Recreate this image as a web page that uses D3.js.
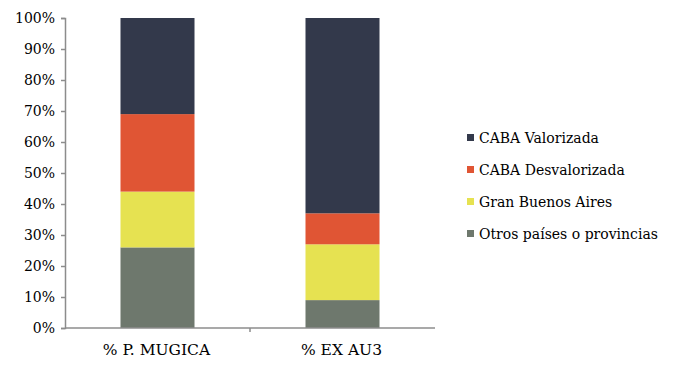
<!DOCTYPE html>
<html>
<head>
<meta charset="utf-8">
<script src="https://cdn.jsdelivr.net/npm/d3@7"></script>
<style>
  body { margin: 0; background: #fff; }
</style>
</head>
<body>
<div id="canvas"></div>
<script>
const categories = ['% P. MUGICA', '% EX AU3'];
const seriesNames = ['Otros países o provincias', 'Gran Buenos Aires', 'CABA Desvalorizada', 'CABA Valorizada'];
const otros = [26, 9];
const gba = [18, 18];
const cabaDesv = [25, 10];
const cabaVal = [31, 63];
const yTicks = [0, 10, 20, 30, 40, 50, 60, 70, 80, 90, 100];
const colors = ['#6e786d', '#e6e251', '#e05534', '#33394b'];

const fontStack = '"DejaVu Serif", serif';

const width = 679;
const height = 366;
const margin = { top: 18, right: 244, bottom: 38, left: 65 };
const graphWidth = width - margin.left - margin.right;
const graphHeight = height - margin.top - margin.bottom;

const rows = categories.map((c, i) => ({
  cat: c,
  [seriesNames[0]]: otros[i],
  [seriesNames[1]]: gba[i],
  [seriesNames[2]]: cabaDesv[i],
  [seriesNames[3]]: cabaVal[i],
}));
const stacked = d3.stack().keys(seriesNames)(rows);

const svg = d3
  .select('#canvas')
  .append('svg')
  .attr('width', width)
  .attr('height', height);

const graph = svg
  .append('g')
  .attr('transform', `translate(${margin.left}, ${margin.top})`);

const xScale = d3.scaleBand().domain(categories).range([0, graphWidth]).paddingInner(0.6).paddingOuter(0.3);
const xAxisScale = d3.scaleBand().domain(categories).range([0, graphWidth]);
const yScale = d3.scaleLinear().domain([0, 100]).range([graphHeight, 0]);

// bars
graph
  .selectAll('g.series')
  .data(stacked)
  .enter()
  .append('g')
  .attr('fill', (d, i) => colors[i])
  .selectAll('rect')
  .data(d => d)
  .enter()
  .append('rect')
  .attr('x', d => xScale(d.data.cat))
  .attr('width', xScale.bandwidth())
  .attr('y', d => yScale(d[1]))
  .attr('height', d => yScale(d[0]) - yScale(d[1]));

// y axis
const yAxis = d3.axisLeft(yScale).tickValues(yTicks).tickSize(4).tickFormat(d => d + '%');
const yAxisGroup = graph.append('g').call(yAxis).attr('font-family', fontStack);
yAxisGroup.select('.domain').attr('stroke', '#8c8c8c').attr('stroke-width', 1.5);
yAxisGroup.selectAll('.tick line').attr('stroke', '#8c8c8c').attr('stroke-width', 1.5);
yAxisGroup.selectAll('.tick text')
  .attr('x', -10)
  .attr('font-size', 14)
  .attr('fill', '#000');

// x axis
const xAxisGroup = graph.append('g').attr('transform', `translate(0, ${graphHeight})`);
xAxisGroup.append('line')
  .attr('x1', 0).attr('x2', graphWidth)
  .attr('stroke', '#8c8c8c').attr('stroke-width', 1.5);
xAxisGroup.selectAll('line.tk')
  .data(categories.slice(1))
  .enter()
  .append('line')
  .attr('x1', d => xAxisScale(d)).attr('x2', d => xAxisScale(d))
  .attr('y1', 0).attr('y2', 4)
  .attr('stroke', '#8c8c8c').attr('stroke-width', 1.5);
xAxisGroup.selectAll('text')
  .data(categories)
  .enter()
  .append('text')
  .attr('x', d => xScale(d) + xScale.bandwidth() / 2 - 1)
  .attr('y', 27)
  .attr('text-anchor', 'middle')
  .attr('font-family', fontStack)
  .attr('font-size', 15.5)
  .text(d => d);

// legend
const legend = svg.append('g').attr('transform', 'translate(467, 138)');
const legendItems = legend
  .selectAll('g')
  .data(seriesNames.slice().reverse())
  .enter()
  .append('g')
  .attr('transform', (d, i) => `translate(0, ${i * 32})`);
legendItems.append('rect')
  .attr('x', 0).attr('y', -4)
  .attr('width', 7).attr('height', 7)
  .attr('fill', d => colors[seriesNames.indexOf(d)]);
legendItems.append('text')
  .attr('x', 12)
  .attr('y', 5)
  .attr('font-family', fontStack)
  .attr('font-size', 14)
  .text(d => d);
</script>
</body>
</html>
